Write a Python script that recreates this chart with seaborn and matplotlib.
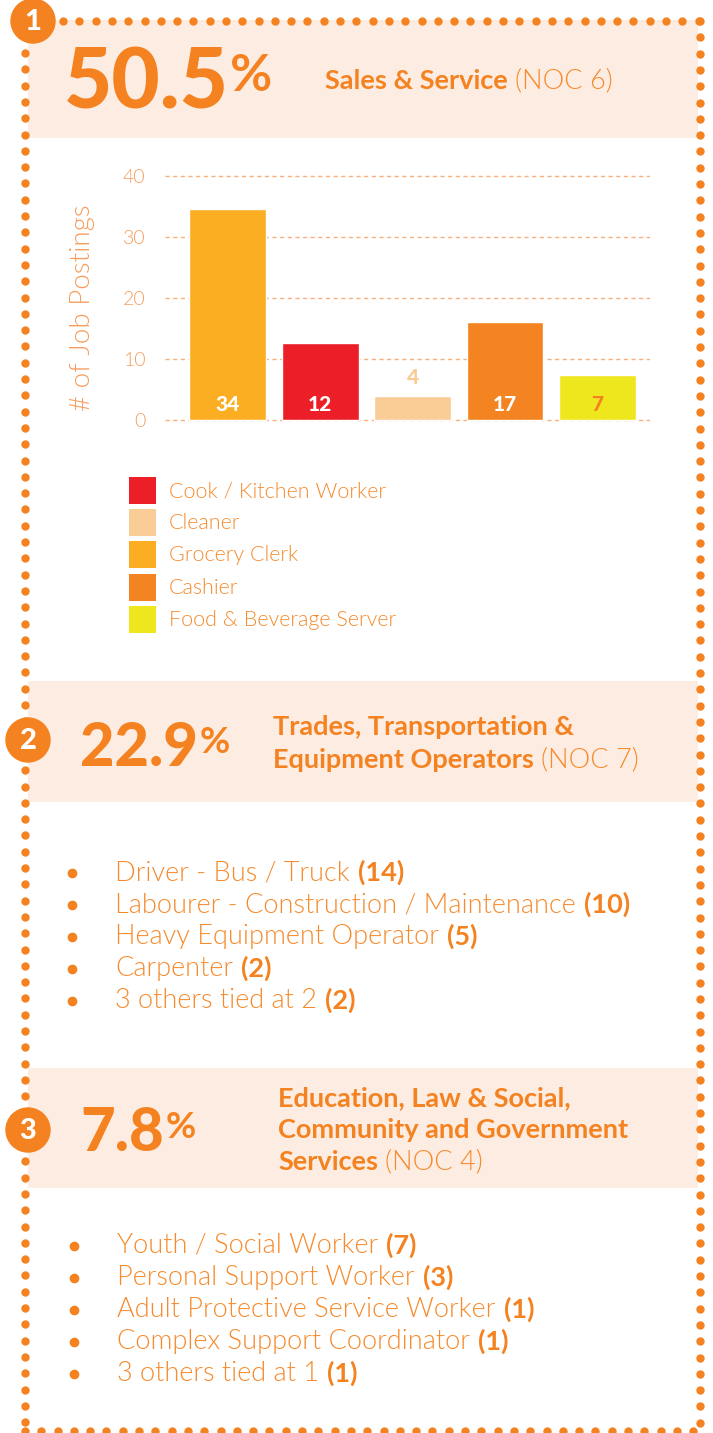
import numpy as np
import pandas as pd
import seaborn as sns
import matplotlib.pyplot as plt
from matplotlib.patches import Rectangle, Circle

# Chart data
jobs = ['Grocery Clerk', 'Cook / Kitchen Worker', 'Cleaner', 'Cashier', 'Food & Beverage Server']
postings = [34.6, 12.7, 4.0, 16.0, 7.3]      # bar heights as drawn
posting_labels = ['34', '12', '4', '17', '7']
legend_order = ['Cook / Kitchen Worker', 'Cleaner', 'Grocery Clerk', 'Cashier', 'Food & Beverage Server']
y_ticks = [0, 10, 20, 30, 40]

# Sector headers
shares = ['50.5', '22.9', '7.8']
sector_lines = [['Sales & Service'],
                ['Trades, Transportation &', 'Equipment Operators'],
                ['Education, Law & Social,', 'Community and Government', 'Services']]
noc_codes = ['(NOC 6)', '(NOC 7)', '(NOC 4)']

# Top jobs lists
trades_jobs = ['Driver - Bus / Truck', 'Labourer - Construction / Maintenance',
               'Heavy Equipment Operator', 'Carpenter', '3 others tied at 2']
trades_counts = [14, 10, 5, 2, 2]
social_jobs = ['Youth / Social Worker', 'Personal Support Worker',
               'Adult Protective Service Worker', 'Complex Support Coordinator', '3 others tied at 1']
social_counts = [7, 3, 1, 1, 1]

# Styling
ORANGE = '#F58220'
TEXT = '#F68A2C'
LIGHT = '#F79C5C'
PEACH = '#FDECE1'
THIN = 300
job_colors = {'Grocery Clerk': '#FBAE22', 'Cook / Kitchen Worker': '#EC1E27',
              'Cleaner': '#FBCD96', 'Cashier': '#F38421', 'Food & Beverage Server': '#EFE71D'}
label_colors = ['white', 'white', '#FBCB96', 'white', ORANGE]

sns.set_style('white')
plt.rcParams['font.family'] = ['Lato', 'DejaVu Sans']

W, H = 713, 1433
fig = plt.figure(figsize=(W / 100, H / 100), dpi=100)
bg = fig.add_axes([0, 0, 1, 1], zorder=0)
bg.set_xlim(0, W)
bg.set_ylim(H, 0)
bg.axis('off')


def mixed(x, y, first, rest, size, w1='bold', w2=THIN, gap=6):
    t = bg.text(x, y, first, fontsize=size, fontweight=w1, color=ORANGE, va='baseline', ha='left')
    return bg.annotate(rest, xy=(1, 0), xycoords=t, xytext=(gap, 0), textcoords='offset points',
                       fontsize=size, fontweight=w2, color=TEXT, va='bottom', ha='left')


# Peach header bands
for top, bottom in [(20, 138), (681, 802), (1068, 1188)]:
    bg.add_patch(Rectangle((28, top), 670, bottom - top, color=PEACH, lw=0, zorder=0))

# Dotted border
step = 16.3
dkw = dict(ls='none', marker='o', ms=5, color=ORANGE, zorder=3, clip_on=False)
ys = np.arange(53, 1428, step)
bg.plot(np.full(len(ys), 25), ys, **dkw)
xs = np.arange(63, 702, step)
bg.plot(xs, np.full(len(xs), 21), **dkw)
ys = np.arange(21, 1428, step)
bg.plot(np.full(len(ys), 700), ys, **dkw)
xs = np.arange(25, 702, step)
bg.plot(xs, np.full(len(xs), 1431), **dkw)

# Numbered badges
for num, (cx, cy) in zip(['1', '2', '3'], [(33, 21), (28, 740), (28, 1130)]):
    bg.add_patch(Circle((cx, cy), 22, color=ORANGE, zorder=4))
    bg.text(cx, cy + 1, num, fontsize=21, fontweight='black', color='white',
            ha='center', va='center', zorder=5)

# Section headers
big_pos = [(64, 108, 60), (80, 766, 43), (80, 1151, 43)]
head_pos = [(325, [89]), (273, [735, 768]), (278, [1106, 1138, 1170])]
for share, (bx, by, bs), (hx, hys), lines, noc in zip(shares, big_pos, head_pos, sector_lines, noc_codes):
    t = bg.text(bx, by, share, fontsize=bs, fontweight='black', color=ORANGE, va='baseline')
    bg.annotate('%', xy=(1, 1), xycoords=t, xytext=(1, -bs * 0.1), textcoords='offset points',
                fontsize=bs * 0.62, fontweight='bold', color=ORANGE, va='top', ha='left')
    for line, ly in zip(lines[:-1], hys[:-1]):
        bg.text(hx, ly, line, fontsize=19.5, fontweight='bold', color=ORANGE, va='baseline')
    mixed(hx, hys[-1], lines[-1], noc, 19.5, gap=5)

# Bulleted lists
for names, counts, tx, bx, y0 in [(trades_jobs, trades_counts, 115, 72, 880),
                                  (social_jobs, social_counts, 117, 74, 1253)]:
    for i, (name, n) in enumerate(zip(names, counts)):
        y = y0 + i * 32
        bg.plot(bx, y - 7, 'o', ms=6, color=ORANGE)
        t = bg.text(tx, y, name, fontsize=19.5, fontweight=THIN, color=TEXT, va='baseline')
        bg.annotate('(%d)' % n, xy=(1, 0), xycoords=t, xytext=(6, 0), textcoords='offset points',
                    fontsize=19.5, fontweight='bold', color=ORANGE, va='bottom', ha='left')

# Legend
for i, name in enumerate(legend_order):
    y = 477 + i * 32.2
    bg.add_patch(Rectangle((129, y), 27, 27, color=job_colors[name], lw=0))
    bg.text(169, y + 14, name, fontsize=15.5, fontweight=THIN, color=TEXT, va='center')

# Bar chart
px = 6.1
ax = fig.add_axes([165 / W, 1 - (420 + 0.5 * px) / H, 485 / W, (244 + px) / H], zorder=2)
ax.set_facecolor('none')
df = pd.DataFrame({'job': jobs, 'postings': postings})
sns.barplot(data=df, x='job', y='postings', hue='job', palette=job_colors, saturation=1,
            width=0.83, legend=False, ax=ax)
ax.set_xlim(-0.68, 4.57)
ax.set_ylim(-0.5, 40.5)
ax.set_yticks(y_ticks)
ax.set_xticks([])
ax.set_xlabel('')
ax.yaxis.grid(True, linestyle=(0, (3, 2.5)), color='#F9B07A', lw=1)
ax.set_axisbelow(True)
sns.despine(ax=ax, left=True, bottom=True)
ax.tick_params(axis='y', length=0, pad=14, labelcolor=LIGHT, labelsize=14)
for lab in ax.get_yticklabels():
    lab.set_fontweight(THIN)
ax.set_ylabel('# of Job Postings', fontsize=20, fontweight=THIN, color=LIGHT)
ax.yaxis.set_label_coords(-0.145, 0.46)

for i, (v, lab) in enumerate(zip(postings, posting_labels)):
    y = 2.6 if v > 6 else v + 3.0
    ax.text(i, y, lab, ha='center', va='center', fontsize=15, fontweight='black',
            color=label_colors[i])

fig.savefig('out.png', dpi=100)
